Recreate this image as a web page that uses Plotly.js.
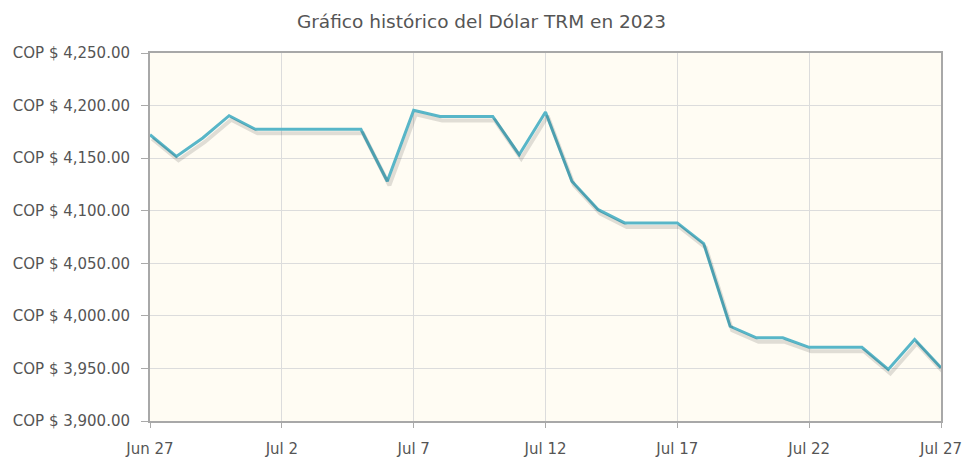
<!DOCTYPE html>
<html><head><meta charset="utf-8">
<script src="https://cdn.plot.ly/plotly-3.0.1.min.js"></script>
<style>html,body{margin:0;padding:0;background:#fff;}#chart{width:963px;height:458px;}</style>
</head><body><div id="chart"></div>
<script>
const dates = ['2023-06-27','2023-06-28','2023-06-29','2023-06-30','2023-07-01','2023-07-02','2023-07-03','2023-07-04','2023-07-05','2023-07-06','2023-07-07','2023-07-08','2023-07-09','2023-07-10','2023-07-11','2023-07-12','2023-07-13','2023-07-14','2023-07-15','2023-07-16','2023-07-17','2023-07-18','2023-07-19','2023-07-20','2023-07-21','2023-07-22','2023-07-23','2023-07-24','2023-07-25','2023-07-26','2023-07-27'];
const trm = [4172.3,4151.7,4169.2,4190.4,4177.4,4177.4,4177.4,4177.4,4177.4,4128.0,4195.6,4189.7,4189.7,4189.7,4153.3,4193.9,4128.0,4101.0,4088.4,4088.4,4088.4,4068.7,3990.1,3979.1,3979.1,3970.1,3970.1,3970.1,3949.0,3977.5,3950.6];
const xTickVals = ['2023-06-27','2023-07-02','2023-07-07','2023-07-12','2023-07-17','2023-07-22','2023-07-27'];
const xTickText = ['Jun 27','Jul 2','Jul 7','Jul 12','Jul 17','Jul 22','Jul 27'];
const yTickVals = [3900,3950,4000,4050,4100,4150,4200,4250];
const yTickText = yTickVals.map(v => 'COP $ ' + v.toLocaleString('en-US',{minimumFractionDigits:2}));
const chartTitle = 'Gráfico histórico del Dólar TRM en 2023';

const font = {family:'DejaVu Sans, sans-serif', size:15, color:'#555'};
const xr = ['2023-06-27','2023-07-27'];
const yr = [3900,4250];
// shadow axes: same data shown a few pixels lower/right
const dayMs = 86400000;
const shiftX = 0.08; // days
const shiftY = 3.8;  // units
const xr2 = [new Date(Date.parse(xr[0]+'T00:00:00Z') - shiftX*dayMs).toISOString(), new Date(Date.parse(xr[1]+'T00:00:00Z') - shiftX*dayMs).toISOString()];

const traces = [
  {x:dates, y:trm, type:'scatter', mode:'lines', xaxis:'x2', yaxis:'y2', hoverinfo:'skip',
   line:{color:'rgba(0,0,0,0.12)', width:4}},
  {x:dates, y:trm, type:'scatter', mode:'lines', name:'TRM',
   line:{color:'#58b6c8', width:3}}
];
const layout = {
  width:963, height:458,
  margin:{l:150, r:22, t:53, b:37},
  paper_bgcolor:'#ffffff', plot_bgcolor:'#fffcf3',
  showlegend:false,
  font:font,
  title:{text:chartTitle, x:0.5, xanchor:'center', y:0.952, yanchor:'middle', font:{family:'DejaVu Sans, sans-serif', size:18.5, color:'#555'}},
  xaxis:{type:'date', range:xr, tickvals:xTickVals, ticktext:xTickText, showgrid:true, gridcolor:'#dcdcdc', gridwidth:1,
    ticks:'outside', ticklen:5, tickcolor:'#aaa', showline:true, linecolor:'#a8a8a8', linewidth:2, mirror:true,
    ticklabelstandoff:8, zeroline:false, tickfont:font},
  yaxis:{range:yr, tickvals:yTickVals, ticktext:yTickText, showgrid:true, gridcolor:'#dcdcdc', gridwidth:1,
    ticks:'outside', ticklen:7, tickcolor:'#aaa', showline:true, linecolor:'#a8a8a8', linewidth:2, mirror:true,
    ticklabelstandoff:8, zeroline:false, tickfont:font},
  xaxis2:{type:'date', range:xr2, overlaying:'x', visible:false, showgrid:false},
  yaxis2:{range:[yr[0]+shiftY, yr[1]+shiftY], overlaying:'y', visible:false, showgrid:false}
};
Plotly.newPlot('chart', traces, layout, {displayModeBar:false, staticPlot:true});
</script></body></html>
